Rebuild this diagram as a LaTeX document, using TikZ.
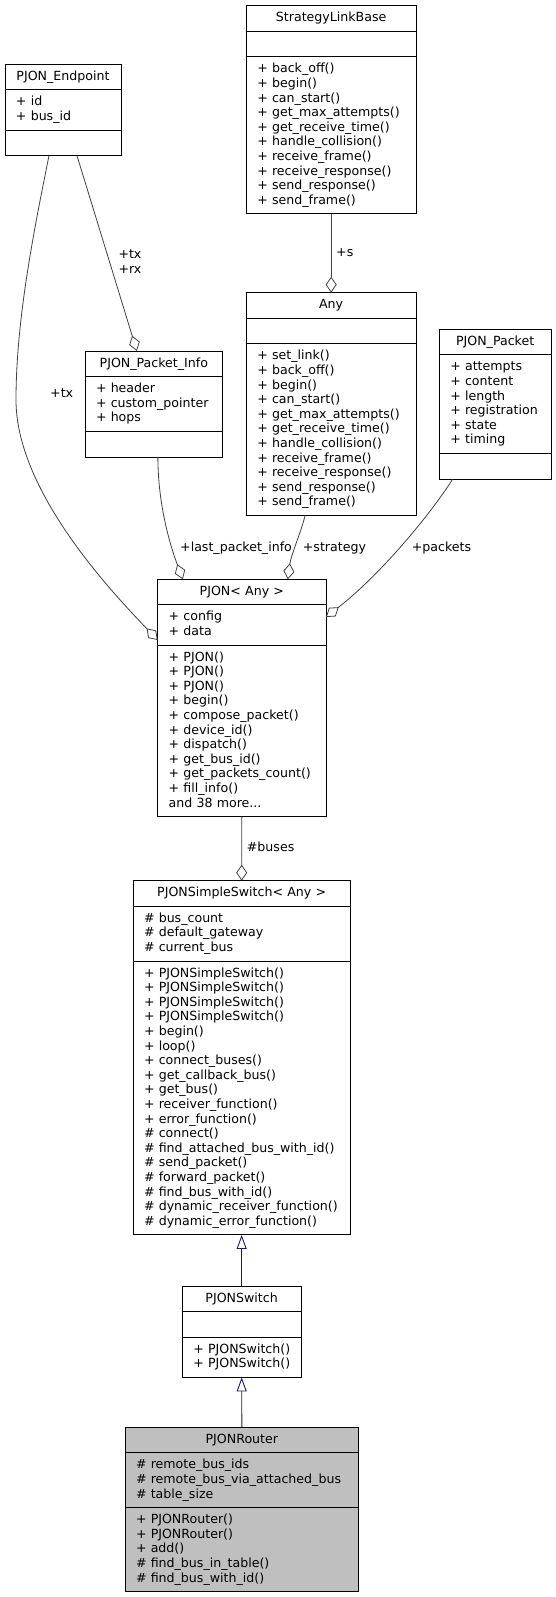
\documentclass[tikz,border=0pt]{standalone}
\usepackage{fontspec}
\setmainfont{DejaVu Sans}
\usepackage{xcolor}
\usepackage{tikz}
\usetikzlibrary{positioning,arrows.meta,calc}
\definecolor{edgegray}{HTML}{404040}
\definecolor{inhblue}{HTML}{191970}
\definecolor{selgray}{HTML}{BFBFBF}
\newcommand{\umlfont}{\fontsize{12.6}{14.6}\selectfont}
\newcommand{\umlstrut}{\hyphenpenalty=10000\exhyphenpenalty=10000\rule[-4.1pt]{0pt}{14.6pt}}
\tikzset{
  cls/.style={draw=black, line width=0.9pt, fill=white, outer sep=0pt,
    inner xsep=11pt, inner ysep=5.5pt, text width=#1, align=left, font=\umlfont,
    execute at begin node=\umlstrut, execute at end node=\umlstrut},
  head/.style={cls=#1, align=center},
  lbl/.style={font=\umlfont, inner sep=0pt, anchor=base west},
  agg/.style={draw=edgegray, line width=0.8pt, -{Diamond[open,length=16pt,width=11pt]}},
  isa/.style={draw=inhblue, line width=0.9pt, -{Triangle[open,length=14pt,width=10pt]}}
}
\begin{document}
\begin{tikzpicture}[x=1pt,y=-1pt]
\useasboundingbox (0,0) rectangle (556,1597);
% top row
\node[head=94pt, anchor=north west] (ep) at (5,64.3) {PJON\_Endpoint};
\node[cls=94pt, below=0pt of ep] (ep-a) {+ id\\+ bus\_id};
\node[cls=94pt, below=0pt of ep-a] (ep-m) {};

\node[head=147.7pt, anchor=north west] (slb) at (246.3,5.7) {StrategyLinkBase};
\node[cls=147.7pt, below=0pt of slb] (slb-a) {};
\node[cls=147.7pt, below=0pt of slb-a] (slb-m) {+ back\_off()\\+ begin()\\+ can\_start()\\+ get\_max\_attempts()\\+ get\_receive\_time()\\+ handle\_collision()\\+ receive\_frame()\\+ receive\_response()\\+ send\_response()\\+ send\_frame()};

\node[head=147.7pt, anchor=north west] (any) at (246.3,292.7) {Any};
\node[cls=147.7pt, below=0pt of any] (any-a) {};
\node[cls=147.7pt, below=0pt of any-a] (any-m) {+ set\_link()\\+ back\_off()\\+ begin()\\+ can\_start()\\+ get\_max\_attempts()\\+ get\_receive\_time()\\+ handle\_collision()\\+ receive\_frame()\\+ receive\_response()\\+ send\_response()\\+ send\_frame()};

\node[head=115.7pt, anchor=north west] (pi) at (85,351) {PJON\_Packet\_Info};
\node[cls=115.7pt, below=0pt of pi] (pi-a) {+ header\\+ custom\_pointer\\+ hops};
\node[cls=115.7pt, below=0pt of pi-a] (pi-m) {};

\node[head=89.7pt, anchor=north west] (pk) at (439.3,329.3) {PJON\_Packet};
\node[cls=89.7pt, below=0pt of pk] (pk-a) {+ attempts\\+ content\\+ length\\+~registration\\+ state\\+ timing};
\node[cls=89.7pt, below=0pt of pk-a] (pk-m) {};

% the template and its users
\node[head=146.3pt, anchor=north west] (pjon) at (157.7,579.3) {PJON< Any >};
\node[cls=146.3pt, below=0pt of pjon] (pjon-a) {+ config\\+ data};
\node[cls=146.3pt, below=0pt of pjon-a] (pjon-m) {+ PJON()\\+ PJON()\\+ PJON()\\+ begin()\\+ compose\_packet()\\+ device\_id()\\+ dispatch()\\+ get\_bus\_id()\\+ get\_packets\_count()\\+ fill\_info()\\and 38 more...};

\node[head=195.3pt, anchor=north west] (pss) at (133,880.7) {PJONSimpleSwitch< Any >};
\node[cls=195.3pt, below=0pt of pss] (pss-a) {\# bus\_count\\\# default\_gateway\\\# current\_bus};
\node[cls=195.3pt, below=0pt of pss-a] (pss-m) {+ PJONSimpleSwitch()\\+ PJONSimpleSwitch()\\+ PJONSimpleSwitch()\\+ PJONSimpleSwitch()\\+ begin()\\+ loop()\\+ connect\_buses()\\+ get\_callback\_bus()\\+ get\_bus()\\+ receiver\_function()\\+ error\_function()\\\# connect()\\\#~find\_attached\_bus\_with\_id()\\\# send\_packet()\\\# forward\_packet()\\\# find\_bus\_with\_id()\\\#~dynamic\_receiver\_function()\\\#~dynamic\_error\_function()};

\node[head=96.7pt, anchor=north west] (ps) at (182.3,1286) {PJONSwitch};
\node[cls=96.7pt, below=0pt of ps] (ps-a) {};
\node[cls=96.7pt, below=0pt of ps-a] (ps-m) {+~PJONSwitch()\\+~PJONSwitch()};

\node[head=211.7pt, fill=selgray, anchor=north west] (pr) at (125,1427.3) {PJONRouter};
\node[cls=211.7pt, fill=selgray, below=0pt of pr] (pr-a) {\# remote\_bus\_ids\\\#~remote\_bus\_via\_attached\_bus\\\# table\_size};
\node[cls=211.7pt, fill=selgray, below=0pt of pr-a] (pr-m) {+ PJONRouter()\\+ PJONRouter()\\+ add()\\\# find\_bus\_in\_table()\\\# find\_bus\_with\_id()};

% members
\draw[agg] (slb-m.south) -- (any.north);
\node[lbl] (l-s) at (336,257) {+s};
\draw[agg] ([xshift=14pt]ep-m.south) -- ([xshift=-17pt]pi.north);
\node[lbl] (l-tx) at (118.3,258.4) {+tx};
\node[lbl] (l-rx) at (118.3,273.4) {+rx};
\draw[agg] ([xshift=-14pt]ep-m.south) .. controls (33.8,231) and (16,320) .. (16,400)
  .. controls (16,490) and (109.7,590) .. ($(pjon-a.west)+(0,15)$);
\node[lbl] (l-tx2) at (50,397.7) {+tx};
\draw[agg] ([xshift=4pt]pi-m.south) .. controls (158,505) and (170,545) .. ([xshift=-59pt]pjon.north);
\node[lbl] (l-lpi) at (180,551.1) {+last\_packet\_info};
\draw[agg] ([xshift=-26pt]any-m.south) .. controls (300,535) and (291,555) .. ([xshift=46pt]pjon.north);
\node[lbl] (l-str) at (302.7,551.1) {+strategy};
\draw[agg] ([xshift=-42.5pt]pk-m.south) .. controls (430,515) and (380,575) .. ($(pjon-a.east)+(0,-8)$);
\node[lbl] (l-pk) at (411.7,551.1) {+packets};
\draw[agg] (pjon-m.south) -- (pss.north);
\node[lbl] (l-bus) at (246.7,851.1) {\#buses};
% inheritance
\draw[isa] (ps.north) -- (pss-m.south);
\draw[isa] (pr.north) -- (ps-m.south);
\end{tikzpicture}
\end{document}
